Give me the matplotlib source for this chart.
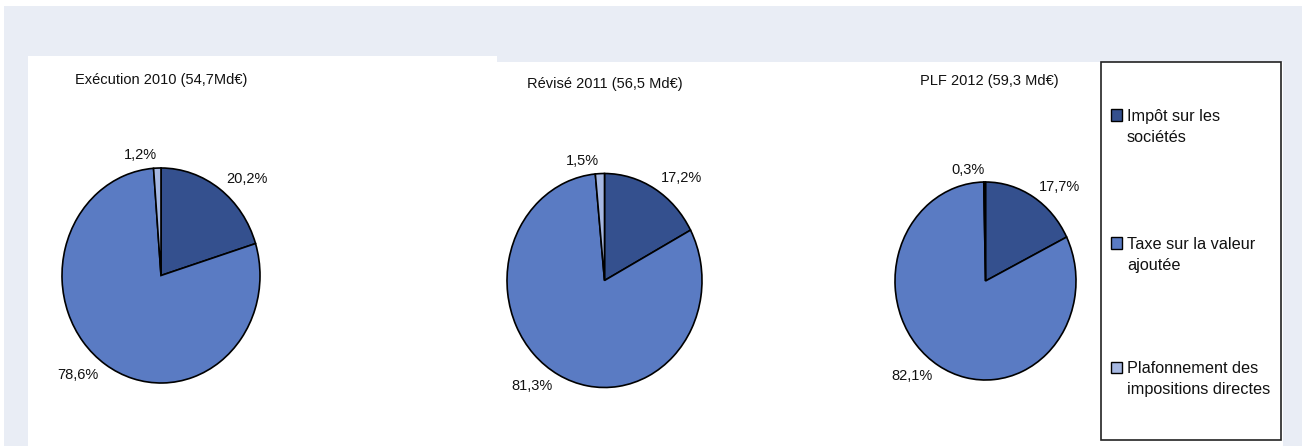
import matplotlib
matplotlib.use("Agg")
import matplotlib.pyplot as plt
from matplotlib.patches import Rectangle

plt.rcParams['font.family'] = ['Liberation Sans', 'DejaVu Sans']

W, H = 1302, 446

categories = ["Impôt sur les\nsociétés",
              "Taxe sur la valeur\najoutée",
              "Plafonnement des\nimpositions directes"]
titles = ["Exécution 2010 (54,7Md€)", "Révisé 2011 (56,5 Md€)", "PLF 2012 (59,3 Md€)"]
share_2010 = [20.2, 78.6, 1.2]
share_2011 = [17.2, 81.3, 1.5]
share_2012 = [17.7, 82.1, 0.3]
colors = ["#34508E", "#5A7BC3", "#A6B8E2"]

# pie layout in pixels: centre x, centre y, radius x, radius y
pie_boxes = [(161, 275.5, 99, 107.5), (604.5, 280.5, 97.5, 107), (985.5, 281, 90.5, 99)]
title_pos = [(75, 80), (527, 84), (920, 81)]


def fx(x):
    return x / W


def fy(y):
    return 1 - y / H


fig = plt.figure(figsize=(W / 100, H / 100), dpi=100)
fig.patch.set_facecolor("white")


def add_rect(x0, y0, x1, y1, **kw):
    r = Rectangle((fx(x0), fy(y1)), (x1 - x0) / W, (y1 - y0) / H,
                  transform=fig.transFigure, **kw)
    fig.add_artist(r)
    return r


# background and white panels
add_rect(4, 6, W, H, facecolor="#E9EDF5", edgecolor="none", zorder=-3)
add_rect(28, 56, 497, H, facecolor="white", edgecolor="none", zorder=-2)
add_rect(497, 62, 1283, H, facecolor="white", edgecolor="none", zorder=-2)

k = 1.6
for vals, title, (cx, cy, rx, ry), (tx, ty) in zip(
        [share_2010, share_2011, share_2012], titles, pie_boxes, title_pos):
    ax = fig.add_axes([fx(cx - k * rx), fy(cy + k * ry), 2 * k * rx / W, 2 * k * ry / H])
    labels = [f"{v:.1f}%".replace(".", ",") for v in vals]
    ax.pie(vals, labels=labels, colors=colors, startangle=90, counterclock=False,
           labeldistance=1.12,
           wedgeprops=dict(edgecolor="black", linewidth=1.2),
           textprops=dict(fontsize=10.5, color="#111111"))
    ax.set_aspect("auto")
    ax.set_xlim(-k, k)
    ax.set_ylim(-k, k)
    fig.text(fx(tx), fy(ty), title, fontsize=10.5, va="center", color="#111111")

# legend box
add_rect(1101, 62, 1281, 440, facecolor="white", edgecolor="#222222", linewidth=1.2, zorder=-1)
legend_baselines = [121, 249, 373]
for cat, col, yb in zip(categories, colors, legend_baselines):
    add_rect(1111, yb - 11.5, 1122, yb, facecolor=col, edgecolor="black", linewidth=1.0)
    fig.text(fx(1127), fy(yb - 12), cat, fontsize=11.7, va="top", ha="left",
             linespacing=1.53, color="#111111")

fig.savefig("out.png", dpi=100)
